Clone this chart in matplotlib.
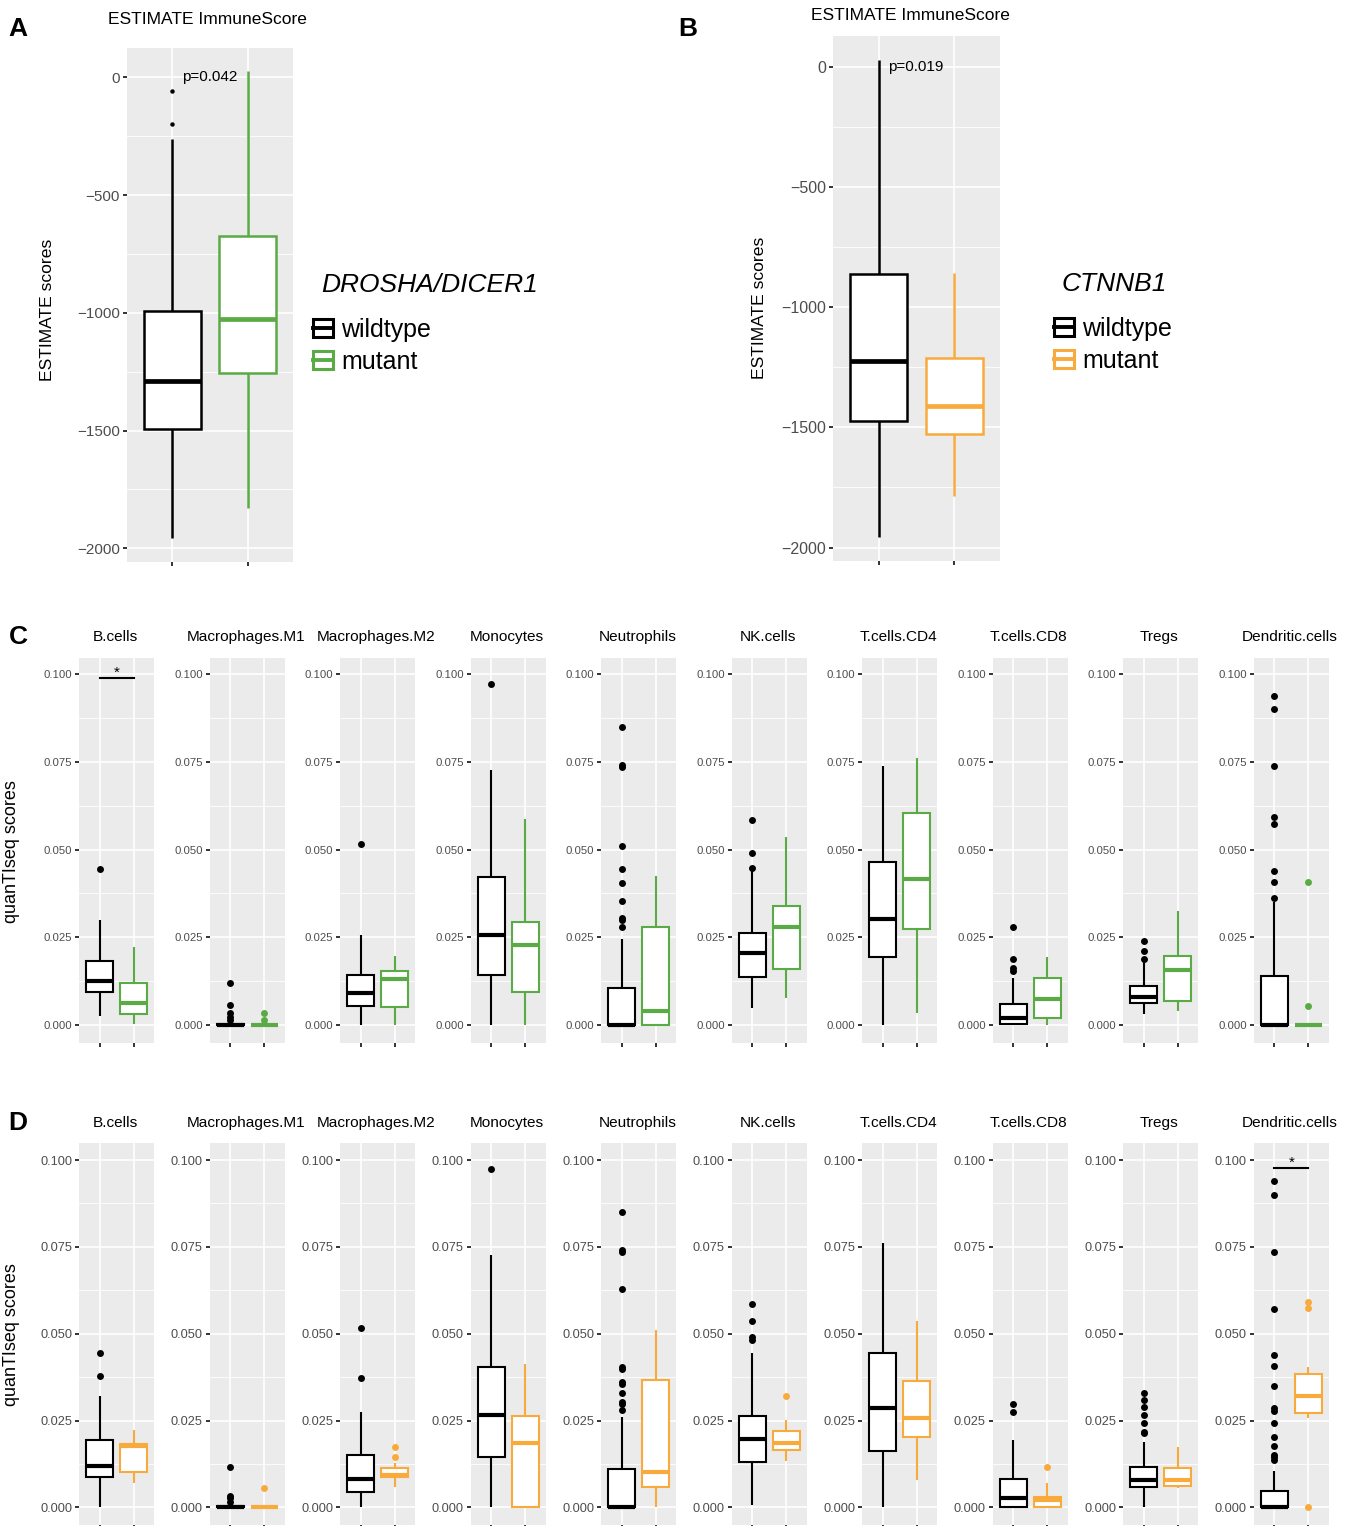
import matplotlib
matplotlib.use("Agg")
import matplotlib.pyplot as plt
from matplotlib.patches import Rectangle, Patch
from matplotlib.lines import Line2D
from matplotlib.legend_handler import HandlerBase

plt.rcParams['font.family'] = ['Liberation Sans', 'DejaVu Sans']

# ---- ESTIMATE ImmuneScore: (whislo, q1, median, q3, whishi) ----
a_wt = [-1957, -1493, -1290, -991, -262]
a_wt_out = [-58, -200]
a_mut = [-1830, -1254, -1028, -672, 27]
a_mut_out = []
a_pval = "p=0.042"

b_wt = [-1957, -1472, -1223, -864, 28]
b_wt_out = []
b_mut = [-1784, -1527, -1411, -1213, -859]
b_mut_out = []
b_pval = "p=0.019"

estimate_ticks = [0, -500, -1000, -1500, -2000]

# ---- quanTIseq cell fractions ----
cell_types = ["B.cells", "Macrophages.M1", "Macrophages.M2", "Monocytes", "Neutrophils",
              "NK.cells", "T.cells.CD4", "T.cells.CD8", "Tregs", "Dendritic.cells"]
quant_ticks = [0.0, 0.025, 0.05, 0.075, 0.1]

# DROSHA/DICER1
c_wt = [[0.0027, 0.0093, 0.0126, 0.0183, 0.0299],
        [0, 0, 0, 0.0003, 0.0005],
        [0, 0.0055, 0.0090, 0.0143, 0.0257],
        [0, 0.0143, 0.0257, 0.0421, 0.0727],
        [0, 0, 0, 0.0106, 0.0245],
        [0.0048, 0.0138, 0.0204, 0.0261, 0.0447],
        [0, 0.0193, 0.0302, 0.0464, 0.0737],
        [0, 0.0002, 0.0019, 0.0060, 0.0135],
        [0.0030, 0.0062, 0.0081, 0.0111, 0.0185],
        [0, 0, 0, 0.0141, 0.0352]]
c_wt_out = [[0.0445],
            [0.0119, 0.0057, 0.0033, 0.0024, 0.0014],
            [0.0516],
            [0.0971],
            [0.085, 0.0742, 0.0736, 0.051, 0.0444, 0.0404, 0.0354, 0.0306, 0.030, 0.028],
            [0.0585, 0.049, 0.0447],
            [],
            [0.0278, 0.0188, 0.0162, 0.0155],
            [0.024, 0.0212, 0.0188],
            [0.0938, 0.090, 0.0737, 0.0592, 0.0573, 0.044, 0.0407, 0.0363]]
c_mut = [[0.0002, 0.0031, 0.0062, 0.0119, 0.0221],
         [0, 0, 0, 0, 0.0003],
         [0, 0.0050, 0.0130, 0.0155, 0.0197],
         [0, 0.0093, 0.0228, 0.0293, 0.0587],
         [0, 0, 0.0041, 0.0278, 0.0426],
         [0.0076, 0.0159, 0.0280, 0.0339, 0.0535],
         [0.0033, 0.0273, 0.0415, 0.0604, 0.0760],
         [0, 0.0021, 0.0074, 0.0133, 0.0195],
         [0.0040, 0.0069, 0.0157, 0.0197, 0.0325],
         [0, 0, 0, 0, 0]]
c_mut_out = [[], [0.0033, 0.0014], [], [], [], [], [], [], [], [0.0407, 0.0054]]
c_signif = {"B.cells": 0.099}

# CTNNB1
d_wt = [[0, 0.0086, 0.0120, 0.0194, 0.0322],
        [0, 0, 0, 0.0005, 0.0010],
        [0, 0.0045, 0.0083, 0.0151, 0.0275],
        [0, 0.0146, 0.0266, 0.0405, 0.0726],
        [0, 0, 0, 0.0110, 0.0259],
        [0.0007, 0.0130, 0.0197, 0.0264, 0.0443],
        [0, 0.0163, 0.0285, 0.0443, 0.0762],
        [0, 0.0002, 0.0026, 0.0081, 0.0194],
        [0, 0.0060, 0.0079, 0.0115, 0.0187],
        [0, 0, 0, 0.0048, 0.0106]]
d_wt_out = [[0.0445, 0.0378],
            [0.0117, 0.0033, 0.0026, 0.0016],
            [0.0515, 0.0371],
            [0.0973],
            [0.085, 0.0741, 0.0736, 0.063, 0.0405, 0.0397, 0.0362, 0.0355, 0.033, 0.0304, 0.0297, 0.028],
            [0.0585, 0.0536, 0.049, 0.0482],
            [],
            [0.0298, 0.0275],
            [0.0328, 0.0309, 0.029, 0.0266, 0.0242, 0.0218, 0.0213],
            [0.094, 0.090, 0.0736, 0.0571, 0.0439, 0.0407, 0.0349, 0.0285, 0.0278, 0.0244,
             0.0202, 0.0178, 0.0151, 0.0144, 0.0136]]
d_mut = [[0.0069, 0.0101, 0.0178, 0.0183, 0.0223],
         [0, 0, 0, 0, 0],
         [0.0060, 0.0086, 0.0093, 0.0112, 0.0127],
         [0, 0, 0.0184, 0.0263, 0.0412],
         [0, 0.0060, 0.0101, 0.0367, 0.0510],
         [0.0134, 0.0165, 0.0185, 0.0220, 0.0251],
         [0.0079, 0.0203, 0.0256, 0.0365, 0.0537],
         [0, 0.0002, 0.0021, 0.0031, 0.0069],
         [0.0055, 0.0062, 0.0079, 0.0112, 0.0175],
         [0.0257, 0.0271, 0.0321, 0.0384, 0.0405]]
d_mut_out = [[], [0.0055], [0.0173, 0.0146], [], [], [0.0322], [], [0.0115], [], [0.0592, 0.0573, 0]]
d_signif = {"Dendritic.cells": 0.0977}

GREEN = "#5AAB45"
ORANGE = "#F9AA3C"
BG = "#EBEBEB"
TICK_TXT = "#4D4D4D"

W, H = 1351, 1526
fig = plt.figure(figsize=(W / 100, H / 100), dpi=100)


def px_axes(x0, y0, x1, y1):
    return fig.add_axes([x0 / W, 1 - y1 / H, (x1 - x0) / W, (y1 - y0) / H])


def fig_text(x, y, s, **kw):
    return fig.text(x / W, 1 - y / H, s, **kw)


def to_stats(five, fliers):
    return dict(whislo=five[0], q1=five[1], med=five[2], q3=five[3], whishi=five[4], fliers=fliers)


def draw_pair(ax, wt, wt_out, mut, mut_out, color, width, lw, med_lw, ms):
    for pos, five, out, col in [(1, wt, wt_out, "black"), (2, mut, mut_out, color)]:
        ax.bxp([to_stats(five, out)], positions=[pos], widths=width, patch_artist=True,
               showcaps=False, manage_ticks=False, zorder=3,
               boxprops=dict(facecolor="white", edgecolor=col, linewidth=lw),
               whiskerprops=dict(color=col, linewidth=lw, solid_capstyle="butt"),
               medianprops=dict(color=col, linewidth=med_lw, solid_capstyle="butt"),
               flierprops=dict(marker="o", markerfacecolor=col, markeredgecolor=col,
                               markersize=ms, markeredgewidth=0))


def style(ax, ticks, fmt, fs, ylim):
    ax.set_facecolor(BG)
    for s in ax.spines.values():
        s.set_visible(False)
    ax.set_xlim(0.4, 2.6)
    ax.set_ylim(*ylim)
    ax.set_xticks([1, 2])
    ax.set_xticklabels(["", ""])
    ticks = sorted(ticks)
    ax.set_yticks(ticks)
    ax.set_yticklabels([fmt(v) for v in ticks])
    ax.set_yticks([(a + b) / 2 for a, b in zip(ticks[:-1], ticks[1:])], minor=True)
    ax.grid(True, which="major", color="white", lw=1.2)
    ax.grid(True, which="minor", axis="y", color="white", lw=0.6)
    ax.tick_params(which="minor", length=0)
    ax.tick_params(which="major", length=3, width=1.4, color="#333333",
                   labelsize=fs, labelcolor=TICK_TXT, pad=2)
    ax.set_axisbelow(True)


def est_fmt(v):
    return f"{v:.0f}".replace("-", "\u2212")


def quant_fmt(v):
    return f"{v:.3f}"


class BoxKey(HandlerBase):
    def create_artists(self, legend, orig_handle, xdescent, ydescent, width, height, fontsize, trans):
        c = orig_handle.get_edgecolor()
        r = Rectangle((-xdescent, -ydescent), width, height, facecolor="white",
                      edgecolor=c, linewidth=2.2, transform=trans)
        m = Line2D([-xdescent, -xdescent + width], [-ydescent + height / 2] * 2,
                   color=c, linewidth=2.8, transform=trans)
        return [r, m]


def legend_block(x, y, gene, color):
    fig_text(x + 8, y, gene, fontsize=19, style="italic", ha="left", va="center")
    handles = [Patch(facecolor="white", edgecolor="black", label="wildtype"),
               Patch(facecolor="white", edgecolor=color, label="mutant")]
    fig.legend(handles=handles, loc="upper left", bbox_to_anchor=(x / W, 1 - (y + 33) / H),
               frameon=False, handler_map={Patch: BoxKey()}, fontsize=18,
               handlelength=0.78, handleheight=0.72, handletextpad=0.35,
               labelspacing=0.32, borderpad=0, borderaxespad=0)


# ---- panel A ----
axA = px_axes(127, 47.5, 293, 562)
style(axA, estimate_ticks, est_fmt, 11, (-2058, 126.5))
draw_pair(axA, a_wt, a_wt_out, a_mut, a_mut_out, GREEN, 0.75, 1.8, 3.4, 3.2)
axA.text(1.13, 0, a_pval, ha="left", va="center", fontsize=11)
fig_text(207, 20, "ESTIMATE ImmuneScore", fontsize=12.5, ha="center", va="center")
fig_text(48, 310, "ESTIMATE scores", fontsize=12.6, rotation=90, ha="center", va="center")
fig_text(18, 29, "A", fontsize=19, fontweight="bold", ha="center", va="center")
legend_block(313, 285, "DROSHA/DICER1", GREEN)

# ---- panel B ----
axB = px_axes(833, 36, 1000, 561)
style(axB, estimate_ticks, est_fmt, 11.5, (-2056, 127))
draw_pair(axB, b_wt, b_wt_out, b_mut, b_mut_out, ORANGE, 0.75, 1.8, 3.4, 3.2)
axB.text(1.125, 0, b_pval, ha="left", va="center", fontsize=11)
fig_text(910, 15, "ESTIMATE ImmuneScore", fontsize=12.5, ha="center", va="center")
fig_text(760, 308, "ESTIMATE scores", fontsize=12.6, rotation=90, ha="center", va="center")
fig_text(688, 29, "B", fontsize=19, fontweight="bold", ha="center", va="center")
legend_block(1054, 284, "CTNNB1", ORANGE)


# ---- panels C and D ----
def cell_row(top, bottom, ylim, strip_y, wt, wt_out, mut, mut_out, color, signif, fs):
    for i, name in enumerate(cell_types):
        x0 = 79.3 + 130.5 * i
        ax = px_axes(x0, top, x0 + 75, bottom)
        style(ax, quant_ticks, quant_fmt, fs, ylim)
        draw_pair(ax, wt[i], wt_out[i], mut[i], mut_out[i], color, 0.8, 1.5, 3.0, 5.0)
        fig_text(x0 + 36, strip_y, name, fontsize=11.1, ha="center", va="center")
        if name in signif:
            yb = signif[name]
            ax.plot([1, 2], [yb, yb], color="black", lw=1.5, zorder=4)
            ax.text(1.5, yb + 0.0004, "*", ha="center", va="baseline", fontsize=11)


cell_row(657.7, 1042.7, (-0.00505, 0.1047), 637, c_wt, c_wt_out, c_mut, c_mut_out,
         GREEN, c_signif, 8.2)
fig_text(12, 852, "quanTIseq scores", fontsize=13, rotation=90, ha="center", va="center")
fig_text(18, 637, "C", fontsize=19, fontweight="bold", ha="center", va="center")

cell_row(1142.7, 1524.7, (-0.005, 0.105), 1123, d_wt, d_wt_out, d_mut, d_mut_out,
         ORANGE, d_signif, 9.2)
fig_text(12, 1335, "quanTIseq scores", fontsize=13, rotation=90, ha="center", va="center")
fig_text(18, 1123, "D", fontsize=19, fontweight="bold", ha="center", va="center")

fig.savefig("out.png", dpi=100, facecolor="white")
